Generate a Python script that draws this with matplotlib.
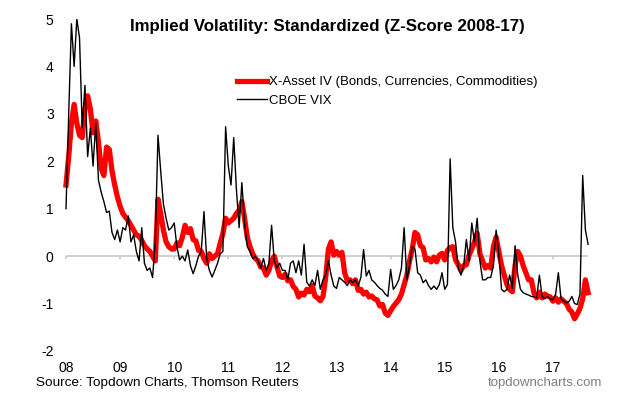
import numpy as np
import matplotlib
matplotlib.use('Agg')
import matplotlib.pyplot as plt

plt.rcParams['font.family'] = ['Liberation Sans', 'DejaVu Sans']
plt.rcParams['axes.unicode_minus'] = False

# readings every 0.05 year, starting at the "08" label
step = 0.05

xasset_iv = [
    1.5, 2.1, 2.8, 3.2, 2.8, 2.55, 2.5, 3.1, 3.38, 3.1,
    2.6, 2.85, 2.4, 1.85, 1.7, 2.3, 2.25, 1.8, 1.5, 1.25,
    1.05, 0.9, 0.82, 0.75, 0.65, 0.55, 0.45, 0.42, 0.33, 0.22,
    0.15, 0.1, 0.0, -0.1, 1.2, 0.9, 0.55, 0.3, 0.2, 0.15,
    0.15, 0.28, 0.22, 0.4, 0.65, 0.5, 0.58, 0.35, 0.32, 0.12,
    0.1, -0.05, -0.15, 0.05, -0.05, 0.0, 0.05, 0.27, 0.48, 0.8,
    0.7, 0.75, 0.8, 0.9, 0.97, 1.15, 0.8, 0.4, 0.2, 0.05,
    -0.05, -0.1, -0.23, -0.25, -0.4, -0.3, -0.1, 0.0, -0.23, -0.42,
    -0.45, -0.38, -0.52, -0.5, -0.64, -0.7, -0.86, -0.78, -0.82, -0.7,
    -0.75, -0.62, -0.84, -0.88, -0.94, -0.85, -0.45, 0.15, 0.3, 0.02,
    0.1, 0.02, 0.08, -0.35, -0.52, -0.5, -0.58, -0.5, -0.72, -0.7,
    -0.8, -0.76, -0.86, -0.84, -0.9, -0.92, -1.05, -1.02, -1.2, -1.25,
    -1.15, -1.06, -0.99, -0.92, -0.8, -0.6, -0.4, -0.1, 0.15, 0.5,
    0.45, 0.22, 0.18, -0.08, -0.05, -0.12, -0.02, -0.12, 0.02, 0.06,
    -0.08, 0.12, 0.18, 0.2, -0.08, -0.18, -0.3, -0.2, -0.18, 0.02,
    0.15, 0.3, 0.48, 0.05, -0.1, -0.25, -0.2, -0.25, 0.2, 0.4,
    0.1, -0.2, -0.4, -0.6, -0.7, -0.75, -0.2, 0.1, 0.0, -0.2,
    -0.35, -0.5, -0.5, -0.78, -0.88, -0.76, -0.88, -0.8, -0.84, -0.86,
    -0.95, -0.88, -0.97, -0.9, -0.95, -1.0, -1.12, -1.18, -1.32, -1.22,
    -1.1, -0.9, -0.5, -0.77,
]

cboe_vix = [
    1.0, 3.0, 4.9, 4.0, 5.0, 4.6, 2.7, 3.6, 2.1, 2.7,
    1.9, 2.8, 1.6, 1.35, 1.15, 0.92, 0.95, 0.5, 0.35, 0.55,
    0.3, 0.6, 0.55, 0.85, 0.3, 0.45, 0.1, -0.1, 0.6, -0.15,
    -0.3, -0.25, -0.45, 0.3, 2.55, 1.8, 1.1, 0.8, 0.55, 0.6,
    0.7, 0.2, -0.08, 0.0, -0.1, 0.13, -0.2, -0.37, -0.2, 0.0,
    0.1, 0.94, -0.05, -0.3, -0.44, -0.3, -0.15, 0.05, 0.1, 2.73,
    1.9, 1.5, 2.5, 1.4, 0.6, 1.55, 0.7, 0.2, 0.1, -0.05,
    0.0, -0.1, -0.25, -0.05, -0.3, -0.15, 0.65, -0.1, -0.25, -0.15,
    -0.3, -0.3, -0.5, -0.15, -0.1, -0.35, -0.1, -0.4, 0.25, -0.55,
    -0.63, -0.5, -0.62, -0.3, -0.7, -0.5, -0.4, -0.1, -0.4, -0.63,
    -0.68, -0.45, -0.5, -0.55, -0.62, -0.5, -0.56, -0.5, -0.63, -0.45,
    0.14, -0.42, -0.3, -0.5, -0.55, -0.62, -0.68, -0.72, -0.8, -0.85,
    -0.28, -0.7, -0.62, -0.5, -0.25, 0.6, -0.5, -0.2, 0.2, 0.15,
    -0.35, -0.4, -0.56, -0.5, -0.62, -0.7, -0.63, -0.7, -0.6, -0.35,
    -0.7, -0.6, 2.05, 0.6, 0.3, -0.25, -0.4, -0.2, 0.35, -0.1,
    0.7, 0.3, 0.8, -0.1, -0.5, -0.5, -0.45, -0.45, -0.2, 0.55,
    0.05, -0.7, -0.75, -0.7, -0.4, -0.68, 0.22, -0.4, -0.7, -0.77,
    -0.8, -0.82, -0.85, -0.86, -0.88, -0.4, -0.85, -0.9, -0.85, -0.9,
    -0.92, -0.8, -0.35, -0.9, -0.95, -0.99, -0.95, -0.85, -1.0, -1.02,
    -0.8, 1.7, 0.55, 0.25,
]

year_labels = ['08', '09', '10', '11', '12', '13', '14', '15', '16', '17']
y_ticks = [-2, -1, 0, 1, 2, 3, 4, 5]

t = np.arange(len(cboe_vix)) * step
year_pos = np.arange(len(year_labels))

fig = plt.figure(figsize=(6.37, 4.04), dpi=100)
ax = fig.add_axes([62 / 637, 53 / 404, 538 / 637, 332 / 404])

# zero line with small year ticks
ax.hlines(0, t[0], t[-1], color='#c8c8c8', lw=1.2, zorder=1)
ax.vlines(year_pos, -0.07, 0, color='#c8c8c8', lw=1.2, zorder=1)

ax.plot(t, xasset_iv, color='#ff0000', lw=3.8,
        label='X-Asset IV (Bonds, Currencies, Commodities)', zorder=2)
ax.plot(t, cboe_vix, color='black', lw=1.0, label='CBOE VIX', zorder=3)

ax.set_xlim(-0.074, 9.87)
ax.set_ylim(-2, 5)
ax.set_xticks(year_pos)
ax.set_xticklabels(year_labels)
ax.set_yticks(y_ticks)
ax.tick_params(axis='both', length=0, labelsize=10)
ax.tick_params(axis='x', pad=7)
ax.tick_params(axis='y', pad=6)
for s in ax.spines.values():
    s.set_visible(False)

ax.legend(loc='upper left', bbox_to_anchor=(237 / 637, 1 - 76 / 404),
          bbox_transform=fig.transFigure, frameon=False, fontsize=9.5,
          handlelength=2.3, handletextpad=0.15, borderpad=0, labelspacing=0.5,
          borderaxespad=0)

fig.text(327 / 637, 1 - 27 / 404, 'Implied Volatility: Standardized (Z-Score 2008-17)',
         ha='center', va='center', fontsize=12.2, fontweight='bold')
fig.text(36 / 637, 1 - 383 / 404, 'Source: Topdown Charts, Thomson Reuters',
         ha='left', va='center', fontsize=9.7)
fig.text(602 / 637, 1 - 383 / 404, 'topdowncharts.com',
         ha='right', va='center', fontsize=9.5, color='#7f7f7f')

fig.savefig('out.png', dpi=100)
